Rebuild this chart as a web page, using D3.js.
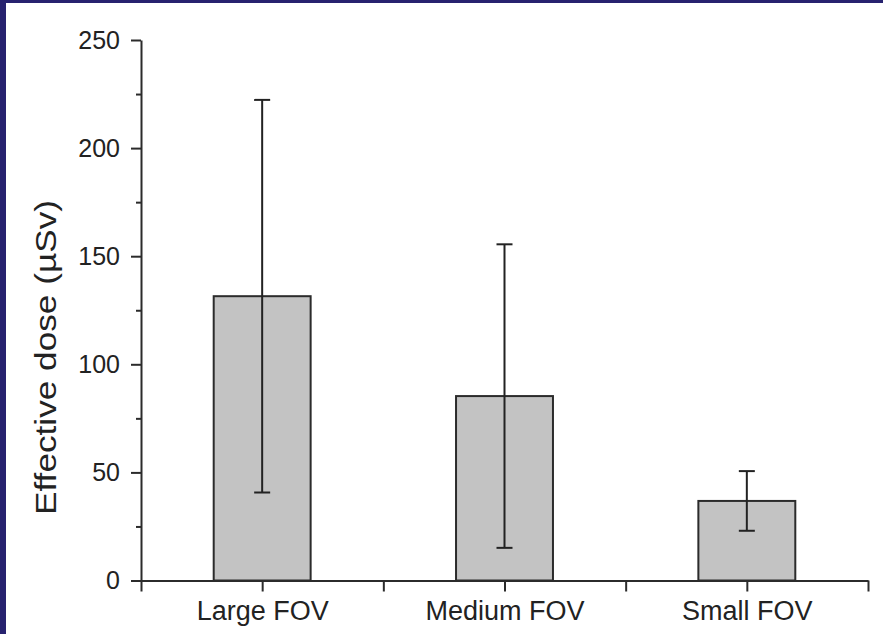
<!DOCTYPE html>
<html>
<head>
<meta charset="utf-8">
<script src="https://cdn.jsdelivr.net/npm/d3@7"></script>
<style>
  body { margin: 0; padding: 0; }
  svg { display: block; }
  text { font-family: "Liberation Sans", Arial, sans-serif; fill: #222; }
</style>
</head>
<body>
<div id="chart"></div>
<script>
// data
const categories = ['Large FOV', 'Medium FOV', 'Small FOV'];
const means = [131.5, 85.3, 36.8];
const errors = [90.8, 70.2, 13.8];
const yTicks = [0, 50, 100, 150, 200, 250];
const yMinorTicks = [25, 75, 125, 175, 225];

const width = 883;
const height = 634;
const axisColor = '#2b2b2b';

const svg = d3.select('#chart')
  .append('svg')
  .attr('width', width)
  .attr('height', height);

// navy frame, white plot page
svg.append('rect')
  .attr('width', width).attr('height', height)
  .attr('fill', '#27226f');
svg.append('rect')
  .attr('x', 6).attr('y', 3)
  .attr('width', width - 6).attr('height', height - 3)
  .attr('fill', '#ffffff');

// categories sit at 1,2,3 on a 0.5..3.5 axis
const x = d3.scaleLinear().domain([0.5, categories.length + 0.5]).range([141, 868]);
const y = d3.scaleLinear().domain([0, 250]).range([580.5, 40]);
const barWidth = 0.4;

// bars
svg.append('g')
  .selectAll('rect')
  .data(means)
  .enter()
  .append('rect')
  .attr('x', (d, i) => x(i + 1 - barWidth / 2))
  .attr('y', d => y(d))
  .attr('width', x(1 + barWidth / 2) - x(1 - barWidth / 2))
  .attr('height', d => y(0) - y(d))
  .attr('fill', '#c3c3c3')
  .attr('stroke', '#2b2b2b')
  .attr('stroke-width', 2);

// error bars
const err = svg.append('g')
  .attr('stroke', '#222')
  .attr('stroke-width', 2);

means.forEach((m, i) => {
  const cx = x(i + 1);
  const lo = y(m - errors[i]);
  const hi = y(m + errors[i]);
  err.append('line').attr('x1', cx).attr('x2', cx).attr('y1', hi).attr('y2', lo);
  err.append('line').attr('x1', cx - 8).attr('x2', cx + 8).attr('y1', hi).attr('y2', hi);
  err.append('line').attr('x1', cx - 8).attr('x2', cx + 8).attr('y1', lo).attr('y2', lo);
});

// y axis (major + minor)
const yAxis = svg.append('g')
  .attr('transform', `translate(${x(0.5)},0)`)
  .call(d3.axisLeft(y).tickValues(yTicks).tickSize(10).tickSizeOuter(0).tickPadding(11));

svg.append('g')
  .attr('transform', `translate(${x(0.5)},0)`)
  .call(d3.axisLeft(y).tickValues(yMinorTicks).tickSize(5).tickSizeOuter(0).tickFormat(''))
  .select('.domain').remove();

yAxis.selectAll('text')
  .attr('font-size', 25)
  .attr('font-family', '"Liberation Sans", Arial, sans-serif')
  .attr('fill', '#222');

// x axis: ticks at categories and between them
const xTickValues = d3.range(0.5, categories.length + 0.51, 0.5);
const xAxis = svg.append('g')
  .attr('transform', `translate(0,${y(0)})`)
  .call(d3.axisBottom(x)
    .tickValues(xTickValues)
    .tickSize(11)
    .tickSizeOuter(0)
    .tickPadding(9)
    .tickFormat(d => Number.isInteger(d) ? categories[d - 1] : ''));

xAxis.selectAll('text')
  .attr('font-size', 27)
  .attr('font-family', '"Liberation Sans", Arial, sans-serif')
  .attr('fill', '#222');

svg.selectAll('.domain, .tick line')
  .attr('stroke', axisColor)
  .attr('stroke-width', 2);

// y title
svg.append('text')
  .attr('transform', 'translate(56,357.5) rotate(-90)')
  .attr('text-anchor', 'middle')
  .attr('font-size', 29)
  .attr('textLength', 315)
  .attr('lengthAdjust', 'spacingAndGlyphs')
  .text('Effective dose (µSv)');
</script>
</body>
</html>
